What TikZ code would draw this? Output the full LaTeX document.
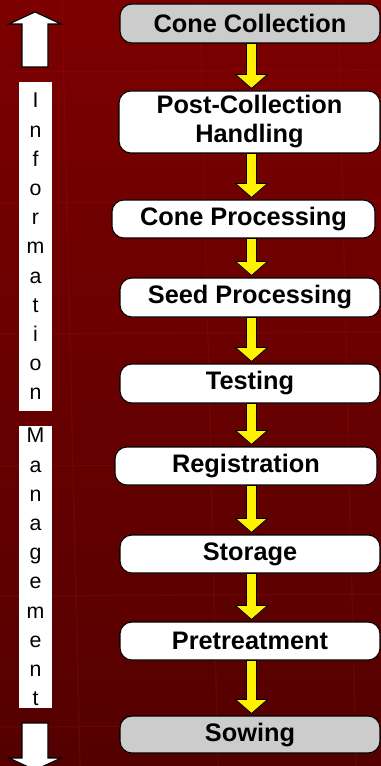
\documentclass[tikz,border=0pt]{standalone}
\usepackage{fontspec}
\setmainfont{Liberation Sans}
\usetikzlibrary{calc}
\definecolor{bgtop}{RGB}{124,0,0}
\definecolor{bgbot}{RGB}{84,0,0}
\definecolor{gridline}{RGB}{150,20,20}
\definecolor{boxgray}{RGB}{204,204,204}
\tikzset{
  stepbox/.style={draw=black, line width=0.8pt, fill=white, rounded corners=9pt,
    minimum width=195pt, minimum height=29pt, inner sep=0pt, align=center,
    font=\bfseries\fontsize{19}{21.75}\selectfont},
  graybox/.style={stepbox, fill=boxgray},
  yarrow/.style={draw=black, line width=0.6pt, fill=yellow, line join=miter},
  warrow/.style={draw=black, line width=0.8pt, fill=white, line join=miter},
  strip/.style={fill=white, inner sep=0pt, minimum width=24.75pt, align=center,
    font=\fontsize{16}{21.9}\selectfont},
  faint/.style={draw=gridline, line width=1pt, opacity=0.25}
}
\newcommand\yarr[2]{%
  \draw[yarrow] let \p1=(#1.south -| colx), \p2=(#2.north -| colx) in
    (\x1-3.75pt,\y1) -- (\x1+3.75pt,\y1) -- (\x1+3.75pt,\y2+12pt) --
    (\x1+12pt,\y2+12pt) -- (\x1,\y2+1.5pt) -- (\x1-12pt,\y2+12pt) --
    (\x1-3.75pt,\y2+12pt) -- cycle;}
\begin{document}
\begin{tikzpicture}[x=0.75pt,y=-0.75pt]
\useasboundingbox (0,0) rectangle (381,766);
\shade[top color=bgtop, bottom color=bgbot] (0,0) rectangle (381,766);
% faint background texture lines
\draw[faint] (0,72) -- (381,70);
\draw[faint] (0,203) -- (381,201);
\draw[faint] (0,334) -- (381,332);
\draw[faint] (0,466) -- (381,464);
\draw[faint] (0,596) -- (381,594);
\draw[faint] (0,727) -- (381,725);
\draw[faint] (62,0) -- (80,766);
\draw[faint] (200,0) -- (218,766);
\draw[faint] (338,0) -- (356,766);

\coordinate (colx) at (251.5,0);

\node[graybox, minimum width=195pt, minimum height=29.25pt] (n1) at (250,23.5) {Cone Collection};
\node[stepbox, minimum width=195.75pt, minimum height=46.5pt] (n2) at (249.5,122) {Post-Collection\\Handling};
\node[stepbox, minimum width=197.25pt, minimum height=28.5pt] (n3) at (243.5,219) {Cone Processing};
\node[stepbox, minimum height=29.25pt] (n4) at (250,297.5) {Seed Processing};
\node[stepbox, minimum height=29.25pt] (n5) at (250,383.5) {Testing};
\node[stepbox, minimum width=196.5pt, minimum height=28.5pt] (n6) at (246,466) {Registration};
\node[stepbox, minimum height=28.5pt] (n7) at (250,554) {Storage};
\node[stepbox, minimum height=28.5pt] (n8) at (250,641) {Pretreatment};
\node[graybox, minimum height=27.75pt] (n9) at (250,734.5) {Sowing};

\yarr{n1}{n2}
\yarr{n2}{n3}
\yarr{n3}{n4}
\yarr{n4}{n5}
\yarr{n5}{n6}
\yarr{n6}{n7}
\yarr{n7}{n8}
\yarr{n8}{n9}

% left column
\draw[warrow] (35,12) -- (61,24) -- (48,24) -- (48,67) -- (22,67) -- (22,24) -- (9,24) -- cycle;
\node[strip, minimum height=246.75pt] (info) at (35.5,246.5) {I\\n\\f\\o\\r\\m\\a\\t\\i\\o\\n};
\node[strip, minimum height=211.5pt] (mgmt) at (35.5,567) {M\\a\\n\\a\\g\\e\\m\\e\\n\\t};
\draw[warrow] (22,723) -- (48,723) -- (48,758) -- (61,758) -- (35,770) -- (9,758) -- (22,758) -- cycle;
\end{tikzpicture}
\end{document}
